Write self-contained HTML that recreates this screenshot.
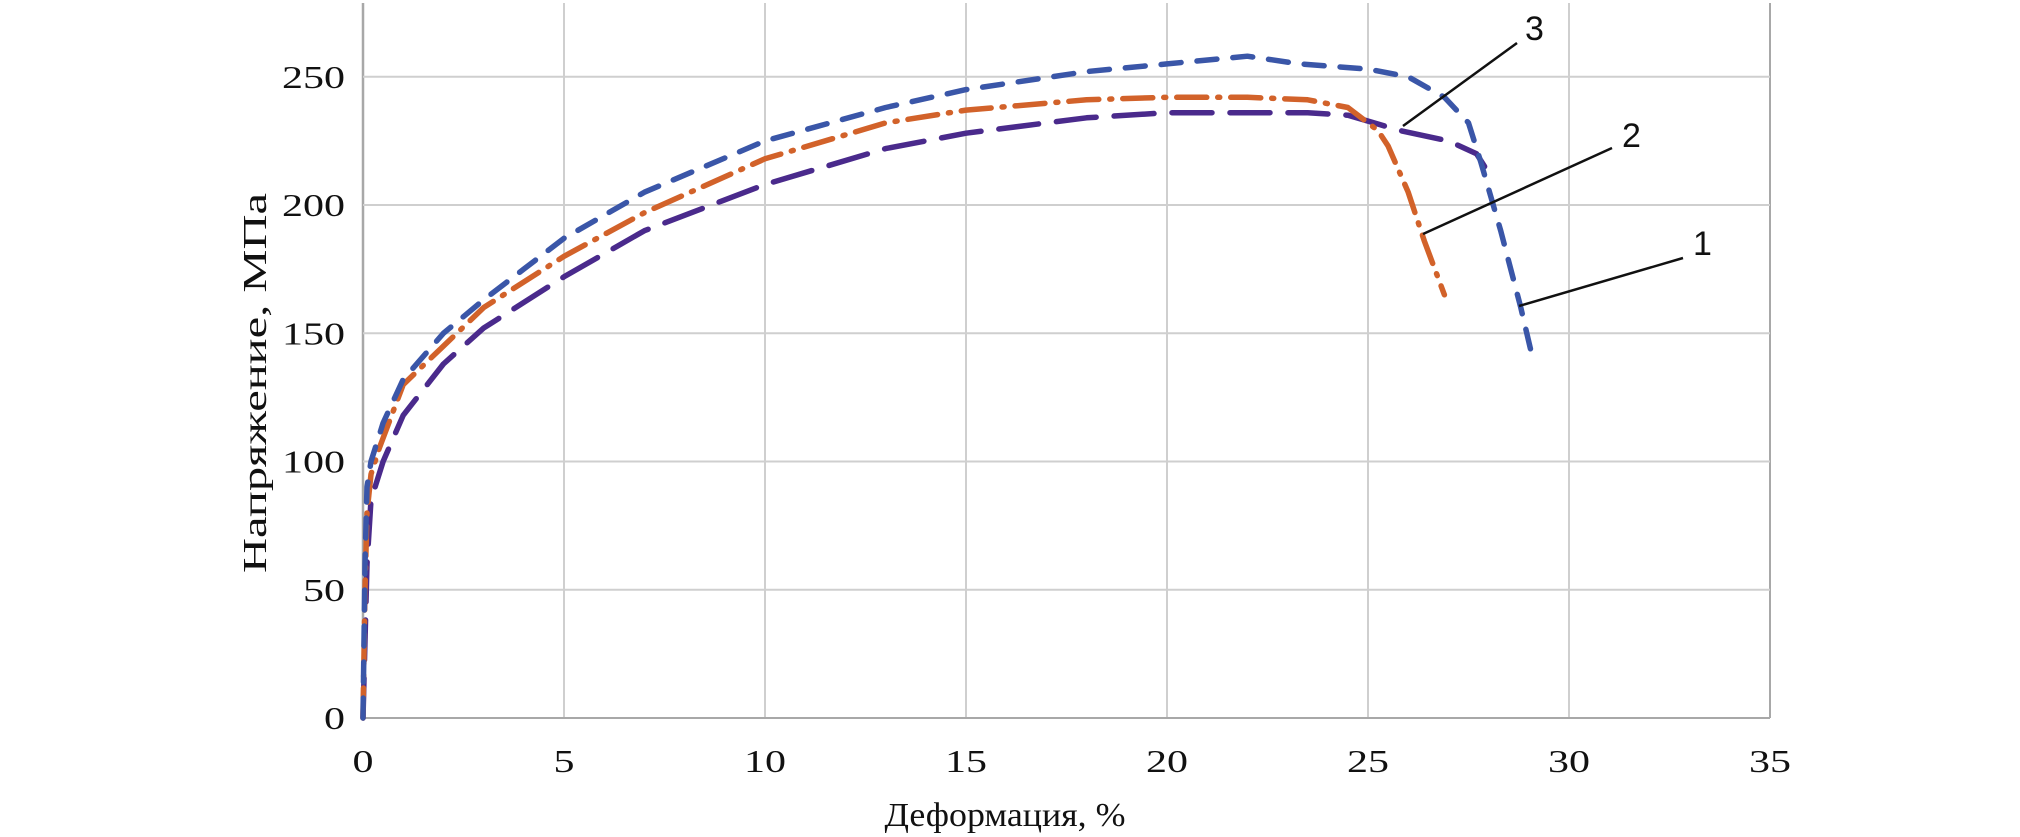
<!DOCTYPE html>
<html><head><meta charset="utf-8">
<style>
html,body{margin:0;padding:0;background:#fff;}
svg{display:block;}
</style></head>
<body>
<svg id="chart" width="2020" height="837" viewBox="0 0 2020 837" xmlns="http://www.w3.org/2000/svg">
<g id="grid"></g>
<g id="series"></g>
<g id="labels"></g>
<text x="1005" y="826" text-anchor="middle" font-family="Liberation Serif, serif" font-size="34" textLength="241" lengthAdjust="spacingAndGlyphs" fill="#111">Деформация, %</text>
<text transform="translate(266,383) rotate(-90)" text-anchor="middle" font-family="Liberation Serif, serif" font-size="34" textLength="380" lengthAdjust="spacingAndGlyphs" fill="#111">Напряжение, МПа</text>
<g font-family="Liberation Sans, sans-serif" font-size="34" fill="#111" stroke-width="2.5">
<line x1="1403" y1="126" x2="1517" y2="43" stroke="#111"/>
<text x="1525" y="40">3</text>
<line x1="1423" y1="234" x2="1612" y2="148" stroke="#111"/>
<text x="1622" y="147">2</text>
<line x1="1519" y1="306" x2="1683" y2="258" stroke="#111"/>
<text x="1693" y="255">1</text>
</g>
</svg>
<script>
const xTicks = [0,5,10,15,20,25,30,35];
const yTicks = [0,50,100,150,200,250];
const s1x = [0,0.05,0.1,0.2,0.5,1,2,3,4,5,7,10,13,15,18,20,22,23.3,25,26,26.9,27.5,27.8,28.3,28.8,29.1];
const s1y = [0,60,90,100,115,132,150,163,175,187,205,225,238,245,252,255,258,255,253,250,242,232,217,190,160,140];
const s2x = [0,0.05,0.1,0.2,0.4,1,2,3,5,7,10,13,15,18,20,22,23.5,24.5,25.25,25.5,26,26.4,26.9];
const s2y = [0,50,80,95,105,130,145,160,180,197,218,232,237,241,242,242,241,238,229,223,205,186,165];
const s3x = [0,0.05,0.1,0.2,0.5,1,2,3,5,7,10,13,15,18,20,22,23.5,24.5,25.8,27,27.7,27.9];
const s3y = [0,30,60,85,100,118,138,152,172,190,208,222,228,234,236,236,236,235,229,225,220,215];

const X0=363, X1=1770, Y0=718, PXY=2.565, XMAX=35;
function sx(v){return X0+(X1-X0)*v/XMAX;}
function sy(v){return Y0-v*PXY;}
const NS='http://www.w3.org/2000/svg';
const grid=document.getElementById('grid');
const labels=document.getElementById('labels');
const series=document.getElementById('series');
function mk(tag,attrs,parent){const e=document.createElementNS(NS,tag);for(const k in attrs)e.setAttribute(k,attrs[k]);parent.appendChild(e);return e;}
xTicks.forEach(v=>{
  const l=mk('line',{x1:sx(v),x2:sx(v),y1:3,y2:Y0,stroke:v===0||v===35?'#a8a8a8':'#cfcfcf','stroke-width':v===0?2.5:2},grid);
  
  
  const t=mk('text',{x:sx(v),y:772,'text-anchor':'middle','font-family':'Liberation Serif, serif','font-size':32,fill:'#111',textLength:String(v).length*21,lengthAdjust:'spacingAndGlyphs'},labels);
  t.textContent=v;
  
  
});
yTicks.forEach(v=>{
  const l=mk('line',{x1:X0,x2:X1,y1:sy(v),y2:sy(v),stroke:v===0?'#a8a8a8':'#cfcfcf','stroke-width':2},grid);
  
  
  const t=mk('text',{x:345,y:sy(v)+11,'text-anchor':'end','font-family':'Liberation Serif, serif','font-size':32,fill:'#111',textLength:String(v).length*21,lengthAdjust:'spacingAndGlyphs'},labels);
  t.textContent=v;
  
  
});
function pts(xs,ys){return xs.map((x,i)=>sx(x).toFixed(1)+','+sy(ys[i]).toFixed(1)).join(' ');}
const p3=mk('polyline',{points:pts(s3x,s3y),fill:'none',stroke:'#4a2a8c','stroke-width':5.5,'stroke-dasharray':'40 18','stroke-linecap':'round','stroke-linejoin':'round'},series);


const p2=mk('polyline',{points:pts(s2x,s2y),fill:'none',stroke:'#d2622a','stroke-width':5.5,'stroke-dasharray':'30 11 2 11','stroke-linecap':'round','stroke-linejoin':'round'},series);


const p1=mk('polyline',{points:pts(s1x,s1y),fill:'none',stroke:'#3a56a8','stroke-width':5.5,'stroke-dasharray':'20 16','stroke-linecap':'round','stroke-linejoin':'round'},series);


</script>
</body></html>
